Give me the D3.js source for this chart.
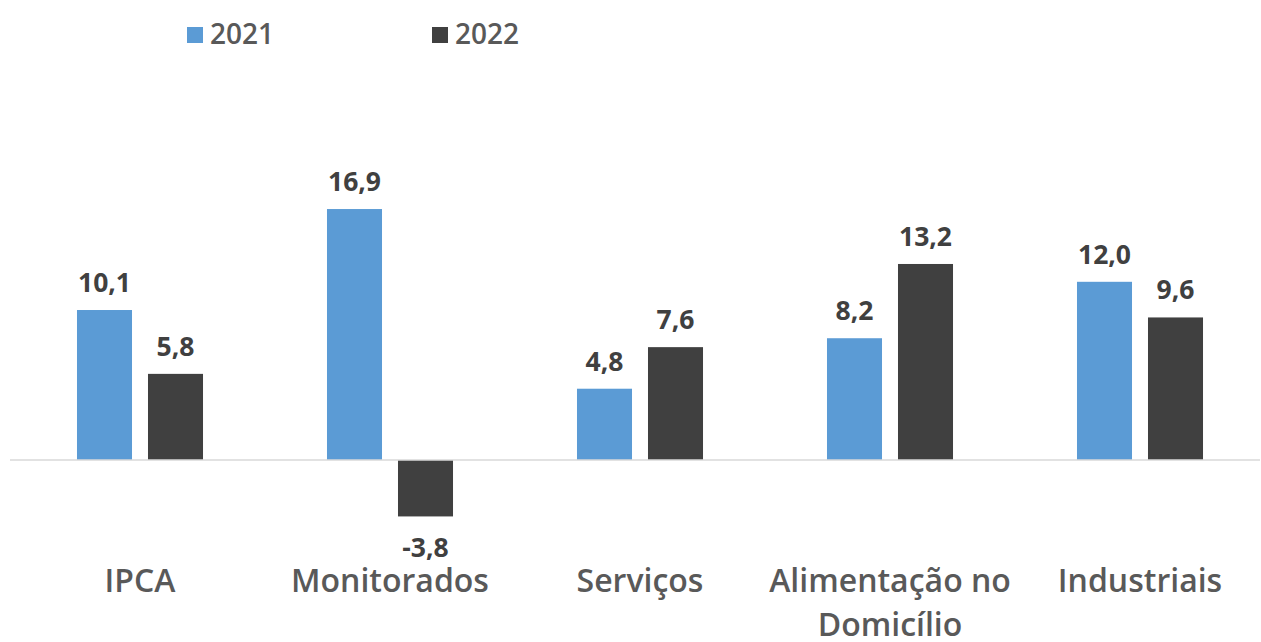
<!DOCTYPE html>
<html>
<head>
<meta charset="utf-8">
<script src="https://cdn.jsdelivr.net/npm/d3@7"></script>
<style>
  html, body { margin: 0; padding: 0; background: #fff; }
  svg { display: block; }
</style>
</head>
<body>
<svg id="chart" width="1261" height="642"></svg>
<script>
const categories = ["IPCA", "Monitorados", "Serviços", "Alimentação no Domicílio", "Industriais"];
const categoryLines = [["IPCA"], ["Monitorados"], ["Serviços"], ["Alimentação no", "Domicílio"], ["Industriais"]];
const seriesNames = ["2021", "2022"];
const values2021 = [10.1, 16.9, 4.8, 8.2, 12.0];
const values2022 = [5.8, -3.8, 7.6, 13.2, 9.6];
const seriesValues = [values2021, values2022];
const colors = ["#5B9BD5", "#404040"];

const svg = d3.select("#chart");
const font = "'Open Sans', 'Noto Sans', sans-serif";

const x = d3.scaleBand().domain(categories).range([15, 1265]).paddingInner(0).paddingOuter(0);
const xs = d3.scaleBand().domain(seriesNames).range([0, x.bandwidth()]).paddingInner(0.225).paddingOuter(0.873);
const y = d3.scaleLinear().domain([-5, 20]).range([534.25, 163]);

const fmt = v => d3.format(".1f")(v).replace(".", ",").replace("−", "-");

const data = [];
categories.forEach((c, i) => {
  seriesNames.forEach((s, j) => data.push({ cat: c, series: s, value: seriesValues[j][i], color: colors[j] }));
});

// bars
svg.append("g").selectAll("rect").data(data).join("rect")
  .attr("x", d => x(d.cat) + xs(d.series))
  .attr("width", xs.bandwidth())
  .attr("y", d => y(Math.max(0, d.value)))
  .attr("height", d => Math.abs(y(d.value) - y(0)))
  .attr("fill", d => d.color);

// zero axis line
svg.append("line")
  .attr("x1", 10).attr("x2", 1260)
  .attr("y1", y(0)).attr("y2", y(0))
  .attr("stroke", "#d9d9d9").attr("stroke-width", 1.5);

// value labels
svg.append("g").selectAll("text").data(data).join("text")
  .attr("x", d => x(d.cat) + xs(d.series) + xs.bandwidth() / 2)
  .attr("y", d => d.value >= 0 ? y(d.value) - 18 : y(d.value) + 41)
  .attr("text-anchor", "middle")
  .attr("font-family", font).attr("font-weight", 700).attr("font-size", 26.5)
  .attr("fill", "#404040")
  .text(d => fmt(d.value));

// category labels
const catG = svg.append("g");
categories.forEach((c, i) => {
  const t = catG.append("text")
    .attr("x", x(c) + x.bandwidth() / 2)
    .attr("y", 592)
    .attr("text-anchor", "middle")
    .attr("font-family", font).attr("font-weight", 600).attr("font-size", 32)
    .attr("fill", "#595959");
  categoryLines[i].forEach((ln, k) => {
    t.append("tspan").attr("x", x(c) + x.bandwidth() / 2).attr("dy", k === 0 ? 0 : 44).text(ln);
  });
});

// legend
const legendX = [187, 432];
const lg = svg.append("g");
seriesNames.forEach((s, j) => {
  lg.append("rect").attr("x", legendX[j]).attr("y", 27).attr("width", 16).attr("height", 16).attr("fill", colors[j]);
  lg.append("text").attr("x", legendX[j] + 23).attr("y", 44)
    .attr("font-family", font).attr("font-weight", 600).attr("font-size", 28)
    .attr("fill", "#595959").text(s);
});
</script>
</body>
</html>
